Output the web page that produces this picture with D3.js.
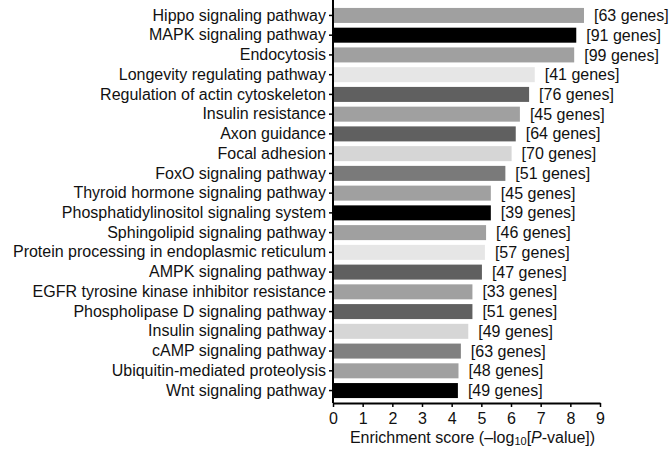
<!DOCTYPE html>
<html>
<head>
<meta charset="utf-8">
<script src="https://cdn.jsdelivr.net/npm/d3@7"></script>
<style>
  body { margin:0; background:#fff; }
  text { font-family: "Liberation Sans", Arial, sans-serif; }
</style>
</head>
<body>
<div class="chart_bar"></div>
<script>
var pathways = ["Hippo signaling pathway","MAPK signaling pathway","Endocytosis","Longevity regulating pathway",
  "Regulation of actin cytoskeleton","Insulin resistance","Axon guidance","Focal adhesion","FoxO signaling pathway",
  "Thyroid hormone signaling pathway","Phosphatidylinositol signaling system","Sphingolipid signaling pathway",
  "Protein processing in endoplasmic reticulum","AMPK signaling pathway","EGFR tyrosine kinase inhibitor resistance",
  "Phospholipase D signaling pathway","Insulin signaling pathway","cAMP signaling pathway",
  "Ubiquitin-mediated proteolysis","Wnt signaling pathway"];
var scores = [8.46,8.2,8.13,6.8,6.61,6.3,6.16,6.02,5.81,5.32,5.32,5.16,5.12,5.02,4.7,4.7,4.56,4.31,4.23,4.21];
var geneCounts = [63,91,99,41,76,45,64,70,51,45,39,46,57,47,33,51,49,63,48,49];
var barColors = ["#a0a0a0","#000000","#a0a0a0","#e6e6e6","#606060","#a0a0a0","#606060","#d6d6d6","#7a7a7a","#a0a0a0",
  "#000000","#a0a0a0","#e6e6e6","#606060","#a0a0a0","#606060","#d6d6d6","#808080","#a0a0a0","#000000"];
var xTicks = [0,1,2,3,4,5,6,7,8,9];

var margin = {top:0, left:333}
  , width = 600 - 333
  , height = 403;

var svg = d3.select(".chart_bar").append("svg")
  .attr("width",671)
  .attr("height",450)
  .append("g")
  .attr("transform","translate("+margin.left+","+margin.top+")");

var xScale = d3.scaleLinear().domain([0,9]).range([0,width]);
var yScale = d3.scaleBand().domain(pathways).range([3,height]).paddingInner(0.24).paddingOuter(0.25);

svg.selectAll(".bar")
  .data(pathways)
  .enter().append("rect")
  .attr("class","bar")
  .attr("x",0)
  .attr("y",function(d){return yScale(d);})
  .attr("width",function(d,i){return xScale(scores[i]);})
  .attr("height",yScale.bandwidth())
  .attr("fill",function(d,i){return barColors[i];});

svg.selectAll(".glabel")
  .data(pathways)
  .enter().append("text")
  .attr("class","glabel")
  .attr("x",function(d,i){return xScale(scores[i]) + 10;})
  .attr("y",function(d){return yScale(d) + yScale.bandwidth()/2;})
  .attr("dy","0.35em")
  .attr("font-size","16px")
  .attr("fill","#111")
  .text(function(d,i){return "["+geneCounts[i]+" genes]";});

var yAxis = svg.append("g")
  .attr("class","y axis")
  .call(d3.axisLeft(yScale).tickSize(4).tickSizeOuter(0).tickPadding(3));
yAxis.select(".domain").remove();
yAxis.selectAll("text").attr("font-size","16px").attr("fill","#111").style("font-family","Liberation Sans, Arial, sans-serif");
yAxis.selectAll("line").attr("stroke-width",1.5);

svg.append("line")
  .attr("x1",0).attr("x2",0).attr("y1",0).attr("y2",height)
  .attr("stroke","#000").attr("stroke-width",2);

var xAxis = svg.append("g")
  .attr("class","x axis")
  .attr("transform","translate(0,"+height+")")
  .call(d3.axisBottom(xScale).tickValues(xTicks).tickFormat(d3.format("d")).tickSize(4).tickSizeOuter(0).tickPadding(6));
xAxis.select(".domain").attr("stroke-width",2);
xAxis.selectAll("line").attr("stroke-width",1.5);
xAxis.selectAll("text").attr("font-size","16px").attr("fill","#111").style("font-family","Liberation Sans, Arial, sans-serif");

var title = svg.append("text")
  .attr("x",width/2 + 6)
  .attr("y",height + 40)
  .attr("text-anchor","middle")
  .attr("font-size","16px")
  .attr("fill","#111");
title.append("tspan").text("Enrichment score (\u2013log");
title.append("tspan").attr("font-size","11px").attr("dy","2").text("10");
title.append("tspan").attr("dy","-2").text("[");
title.append("tspan").attr("font-style","italic").text("P");
title.append("tspan").text("-value])");
</script>
</body>
</html>
